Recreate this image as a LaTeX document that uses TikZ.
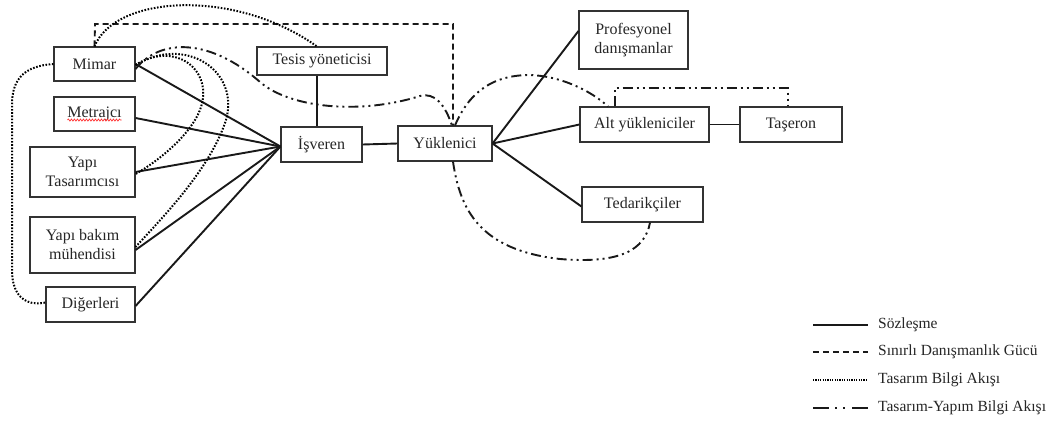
\documentclass[tikz,border=0pt]{standalone}
\usepackage{fontspec}
\setmainfont{Liberation Serif}
\usetikzlibrary{decorations.pathmorphing}
\begin{document}
\begin{tikzpicture}[x=1pt,y=-1pt,
  box/.style={draw=black!80,line width=1.1pt,align=center,inner sep=1pt,
    font=\fontsize{16}{19}\selectfont,text=black!85},
  contract/.style={line width=1.9pt,black!90},
  limited/.style={line width=1.9pt,black!90,dash pattern=on 6pt off 4pt},
  design/.style={line width=2pt,black,dash pattern=on 1.6pt off 1.6pt},
  desbuild/.style={line width=1.9pt,black!90,dash pattern=on 10pt off 4pt on 2pt off 4pt on 2pt off 4pt},
  legtext/.style={anchor=west,font=\fontsize{15.5}{18}\selectfont,text=black!85,inner sep=0pt}
]
\useasboundingbox (0,0) rectangle (1062,437);
\fill[white] (0,0) rectangle (1062,437);

% boxes
\node[box,minimum width=81pt,minimum height=34pt] (mimar) at (94.5,64) {Mimar};
\node[box,minimum width=81pt,minimum height=34pt] (metraj) at (94.5,114) {Metrajcı};
\node[box,minimum width=105pt,minimum height=50pt] (yt) at (82.5,172) {Yapı\\Tasarımcısı};
\node[box,minimum width=105pt,minimum height=56pt] (ybm) at (82.5,245) {Yapı bakım\\mühendisi};
\node[box,minimum width=89pt,minimum height=35pt] (diger) at (90.5,304.5) {Diğerleri};
\node[box,minimum width=130pt,minimum height=28pt] (tesis) at (322,61) {Tesis yöneticisi};
\node[box,minimum width=81pt,minimum height=35pt] (isv) at (321.5,144.5) {İşveren};
\node[box,minimum width=94pt,minimum height=35pt] (yuk) at (445,143.5) {Yüklenici};
\node[box,minimum width=109pt,minimum height=58pt] (prof) at (633.5,40) {Profesyonel\\danışmanlar};
\node[box,minimum width=129pt,minimum height=35pt] (alt) at (644.5,124.5) {Alt yükleniciler};
\node[box,minimum width=102pt,minimum height=35pt] (taseron) at (791,124.5) {Taşeron};
\node[box,minimum width=121pt,minimum height=35pt] (ted) at (642.5,204.5) {Tedarikçiler};

% spell-check underline
\draw[red!80,line width=0.7pt,decorate,decoration={snake,amplitude=1pt,segment length=3pt}]
  ([xshift=-27pt,yshift=-6pt]metraj.center) -- ([xshift=27pt,yshift=-6pt]metraj.center);

% contract lines
\coordinate (conv) at ([yshift=-2pt]isv.west);
\draw[contract] (mimar.east) -- (conv);
\draw[contract] ([yshift=-4pt]metraj.east) -- (conv);
\draw[contract] (yt.east) -- (conv);
\draw[contract] ([yshift=-5pt]ybm.east) -- (conv);
\draw[contract] ([yshift=-1.5pt]diger.east) -- (conv);
\draw[contract] ([xshift=-5pt]tesis.south) -- ([xshift=-4.5pt]isv.north);
\draw[contract] (isv.east) -- (yuk.west);
\draw[contract] (yuk.east) -- ([yshift=9pt]prof.west);
\draw[contract] (yuk.east) -- (alt.west);
\draw[contract] (yuk.east) -- ([yshift=-2pt]ted.west);
\draw[contract] (alt.east) -- (taseron.east -| taseron.west);

% limited consultancy (dashed)
\coordinate (lim1) at (95,24);
\coordinate (lim2) at (453,24);
\draw[limited] (mimar.north) -- (lim1) -- (lim2) -- ([xshift=8pt]yuk.north);

% design information flow (dotted)
\draw[design] (mimar.north) .. controls (115,-5) and (235,-12) .. ([xshift=-5pt]tesis.north);
\draw[design] (mimar.west) .. controls (25,66) and (12,78) .. (12,105) -- (12,270)
  .. controls (12,300) and (30,306) .. ([yshift=2pt]diger.west);
\draw[design] ([yshift=-1pt]mimar.east) .. controls (175,40) and (215,70) .. (200,110)
  .. controls (190,135) and (160,160) .. ([yshift=-2pt]yt.east);
\draw[design] ([yshift=-1pt]mimar.east) .. controls (185,35) and (240,70) .. (226,120)
  .. controls (210,170) and (160,220) .. ([yshift=-2pt]ybm.east);

% design-build information flow (dash-dot-dot)
\draw[desbuild] ([yshift=-5pt]mimar.east) .. controls (160,38) and (210,38) .. (260,82)
  .. controls (290,108) and (360,115) .. (420,96)
  .. controls (435,92) and (445,105) .. ([xshift=7pt]yuk.north);
\draw[desbuild] ([xshift=10pt]yuk.north) .. controls (470,90) and (495,75) .. (530,75)
  .. controls (560,76) and (590,90) .. ([xshift=-36.5pt]alt.north);
\coordinate (ddA) at (615,88);
\coordinate (ddB) at (788,88);
\draw[desbuild] ([xshift=-29.5pt]alt.north) -- (ddA) -- (ddB) -- ([xshift=-3pt]taseron.north);
\draw[desbuild] ([xshift=8pt]yuk.south) .. controls (460,210) and (480,250) .. (560,259)
  .. controls (620,264) and (645,250) .. ([xshift=7.5pt]ted.south);

% legend
\coordinate (l1a) at (813,325); \coordinate (l1b) at (868,325);
\coordinate (l2a) at (813,352); \coordinate (l2b) at (868,352);
\coordinate (l3a) at (813,380); \coordinate (l3b) at (868,380);
\coordinate (l4a) at (813,408); \coordinate (l4b) at (868,408);
\draw[contract] (l1a) -- (l1b);
\draw[limited] (l2a) -- (l2b);
\draw[line width=1.6pt,black,dash pattern=on 1.2pt off 1.2pt] (l3a) -- (l3b);
\draw[line width=1.9pt,black!90,dash pattern=on 16pt off 6pt on 2pt off 6pt on 2pt off 7pt] (l4a) -- (l4b);
\node[legtext] (t1) at (878,325) {Sözleşme};
\node[legtext] (t2) at (878,352) {Sınırlı Danışmanlık Gücü};
\node[legtext] (t3) at (878,380) {Tasarım Bilgi Akışı};
\node[legtext] (t4) at (878,408) {Tasarım-Yapım Bilgi Akışı};
\end{tikzpicture}
\end{document}
